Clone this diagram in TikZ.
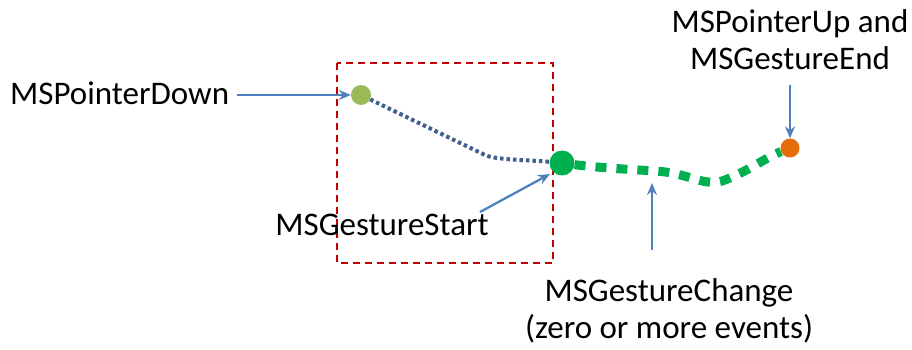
\documentclass[tikz,border=0pt]{standalone}
\usepackage{fontspec}
\setmainfont{Carlito}
\usetikzlibrary{arrows.meta}
\definecolor{arrowblue}{HTML}{4F81BD}
\definecolor{dotblue}{HTML}{3F5F8F}
\definecolor{boxred}{HTML}{C00000}
\definecolor{lightgreen}{HTML}{9BBB59}
\definecolor{darkgreen}{HTML}{00B050}
\definecolor{orangedot}{HTML}{E46C0A}
\begin{document}
\begin{tikzpicture}[x=1pt,y=-1pt,
  lbl/.style={font=\fontsize{33}{37}\selectfont, inner sep=0pt, align=center},
  pointer/.style={draw=arrowblue, line width=2.3pt, -{Stealth[length=12pt,width=10pt,inset=4pt]}},
  dot/.style={circle, inner sep=0pt, draw=none}]
\useasboundingbox (0,0) rectangle (912,350);
\draw[boxred, line width=2pt, dash pattern=on 7pt off 5pt] (337,63) rectangle (553,263);
\node[dot, fill=lightgreen, minimum size=20pt] (down) at (361,95) {};
\node[dot, fill=darkgreen, minimum size=25pt] (start) at (562,163) {};
\node[dot, fill=orangedot, minimum size=19pt] (up) at (790,148) {};
\coordinate (bend) at (485,155);
\draw[dotblue, line width=4pt, dash pattern=on 3.5pt off 3pt] (down) -- (bend) .. controls (495,160) and (530,160) .. (start);
\draw[darkgreen, line width=9pt, dash pattern=on 11pt off 10pt] (start) .. controls (600,168) and (640,170) .. (655,171) .. controls (690,173) and (705,188) .. (725,180) .. controls (750,170) and (765,158) .. (up);
\node[lbl, anchor=west] (ldown) at (10,93) {MSPointerDown};
\node[lbl] (lstart) at (382,225) {MSGestureStart};
\node[lbl] (lchange) at (669,311) {MSGestureChange\\(zero or more events)};
\node[lbl] (lup) at (790,40) {MSPointerUp and\\MSGestureEnd};
\coordinate (a1) at (237,95);
\coordinate (a2) at (480,212);
\coordinate (a3) at (652,250);
\coordinate (t3) at (652,183);
\coordinate (a4) at (790,85);
\draw[pointer] (a1) -- (down.west);
\draw[pointer] (a2) -- (550,174);
\draw[pointer] (a3) -- (t3);
\draw[pointer] (a4) -- (up.north);
\end{tikzpicture}
\end{document}
